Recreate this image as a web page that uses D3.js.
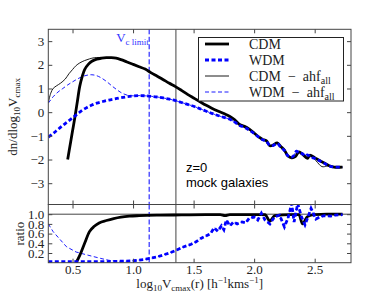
<!DOCTYPE html>
<html>
<head>
<meta charset="utf-8">
<script src="https://cdnjs.cloudflare.com/ajax/libs/d3/7.8.5/d3.min.js"></script>
<style>
  body { margin: 0; background: #fff; }
  svg { display: block; }
</style>
</head>
<body>
<div id="chart"></div>
<script>
// ---- data (log10 Vcmax on x) ----
const cdmX = [0.46,0.48,0.50,0.52,0.54,0.56,0.58,0.60,0.63,0.66,0.70,0.74,0.78,0.82,0.86,0.90,0.95,1.00,1.05,1.10,1.15,1.20,1.25,1.30,1.35,1.40,1.45,1.50,1.55,1.60,1.65,1.70,1.75,1.80,1.84,1.88,1.92,1.96,2.00,2.04,2.07,2.10,2.13,2.16,2.19,2.22,2.25,2.28,2.31,2.34,2.37,2.40,2.44,2.46,2.50,2.54,2.58,2.62,2.66,2.73];
const cdmY = [-2.0,-1.4,-0.8,-0.2,0.45,1.1,1.5,1.8,2.02,2.15,2.24,2.28,2.3,2.3,2.28,2.22,2.12,2.02,1.92,1.82,1.66,1.52,1.37,1.22,1.08,0.92,0.75,0.6,0.45,0.3,0.17,0.05,-0.06,-0.18,-0.32,-0.52,-0.6,-0.72,-0.88,-1.05,-1.15,-1.2,-1.42,-1.38,-1.3,-1.45,-1.6,-1.85,-1.93,-1.88,-1.68,-1.78,-1.95,-1.82,-1.92,-2.04,-2.15,-2.26,-2.32,-2.32];

const wdmX = [0.30,0.34,0.38,0.42,0.46,0.50,0.54,0.58,0.62,0.66,0.70,0.75,0.80,0.85,0.90,0.95,1.00,1.05,1.10,1.15,1.20,1.25,1.30,1.35,1.40,1.45,1.50,1.55,1.60,1.65,1.70,1.75,1.80,1.84,1.88,1.92,1.96,2.00,2.04,2.07,2.10,2.13,2.16,2.19,2.22,2.25,2.28,2.31,2.33,2.35,2.37,2.40,2.42,2.44,2.47,2.50,2.54,2.58,2.62,2.66,2.73];
const wdmY = [-1.05,-0.9,-0.73,-0.56,-0.4,-0.24,-0.08,0.08,0.2,0.3,0.38,0.45,0.51,0.56,0.61,0.65,0.68,0.7,0.69,0.67,0.64,0.6,0.55,0.49,0.41,0.33,0.25,0.15,0.05,-0.05,-0.14,-0.22,-0.3,-0.42,-0.56,-0.64,-0.76,-0.9,-1.06,-1.17,-1.23,-1.4,-1.4,-1.32,-1.48,-1.62,-1.85,-1.9,-1.82,-1.65,-1.72,-1.76,-1.85,-1.8,-1.9,-1.95,-2.05,-2.16,-2.27,-2.32,-2.32];

const cdmAhfX = [0.30,0.32,0.34,0.37,0.40,0.44,0.47,0.50,0.53,0.56,0.60,0.64,0.68,0.72,0.76,0.82,0.86,0.90,0.95,1.00,1.05,1.10,1.15,1.20,1.25,1.30,1.35,1.40,1.45,1.50,1.55,1.60,1.65,1.70,1.75,1.80,1.84,1.88,1.92,1.96,2.00,2.04,2.07,2.10,2.13,2.16,2.19,2.22,2.25,2.28,2.31,2.34,2.37,2.40,2.44,2.46,2.51,2.56,2.60,2.62,2.66,2.73];
const cdmAhfY = [0.4,0.8,1.0,1.12,1.22,1.4,1.62,1.8,1.97,2.08,2.18,2.25,2.3,2.31,2.3,2.3,2.28,2.22,2.12,2.02,1.92,1.82,1.66,1.52,1.37,1.22,1.08,0.92,0.75,0.6,0.45,0.3,0.17,0.05,-0.06,-0.18,-0.32,-0.52,-0.6,-0.72,-0.88,-1.05,-1.15,-1.2,-1.42,-1.38,-1.3,-1.45,-1.6,-1.85,-1.93,-1.88,-1.68,-1.78,-1.95,-1.82,-2.05,-2.3,-2.28,-2.26,-2.32,-2.32];

const wdmAhfX = [0.30,0.34,0.38,0.42,0.46,0.50,0.54,0.58,0.62,0.66,0.70,0.74,0.78,0.82,0.86,0.90,0.95,1.00,1.05,1.10,1.15,1.20,1.25,1.30,1.35,1.40,1.45,1.50,1.55,1.60,1.65,1.70,1.75,1.80,1.84,1.88,1.92,1.96,2.00,2.04,2.07,2.10,2.13,2.16,2.19,2.22,2.25,2.28,2.31,2.33,2.35,2.37,2.40,2.42,2.44,2.47,2.50,2.54,2.58,2.62,2.66,2.73];
const wdmAhfY = [0.38,0.65,0.85,1.0,1.15,1.28,1.4,1.5,1.56,1.58,1.54,1.44,1.3,1.13,0.97,0.83,0.72,0.69,0.7,0.69,0.67,0.64,0.6,0.55,0.49,0.41,0.33,0.25,0.15,0.05,-0.05,-0.14,-0.22,-0.3,-0.42,-0.56,-0.64,-0.76,-0.9,-1.06,-1.17,-1.23,-1.4,-1.4,-1.32,-1.48,-1.62,-1.85,-1.9,-1.82,-1.65,-1.72,-1.76,-1.85,-1.8,-1.9,-1.95,-2.05,-2.16,-2.27,-2.32,-2.32];

// ratio panel
const cdmRatioX = [0.53,0.56,0.60,0.64,0.68,0.72,0.78,0.84,0.90,0.97,1.05,1.20,1.40,1.60,1.72,1.76,1.80,2.00,2.09,2.13,2.17,2.30,2.37,2.40,2.44,2.50,2.60,2.73];
const cdmRatioY = [0.0,0.15,0.40,0.64,0.75,0.82,0.87,0.91,0.94,0.96,0.97,0.98,0.985,0.99,0.99,0.97,0.99,0.99,0.99,0.86,0.97,0.99,0.99,0.80,0.95,0.99,1.0,1.0];

const wdmRatioX = [0.30,0.50,0.70,0.90,1.00,1.10,1.20,1.30,1.36,1.42,1.48,1.52,1.56,1.60,1.64,1.67,1.70,1.73,1.75,1.77,1.80,1.83,1.86,1.90,1.93,1.96,2.00,2.03,2.06,2.09,2.13,2.17,2.21,2.25,2.28,2.31,2.33,2.36,2.39,2.42,2.45,2.47,2.51,2.55,2.58,2.63,2.67,2.73];
const wdmRatioY = [0.02,0.02,0.02,0.03,0.04,0.07,0.12,0.2,0.26,0.33,0.38,0.43,0.5,0.55,0.6,0.72,0.65,0.76,0.68,0.88,0.76,0.84,0.8,0.84,0.82,0.92,0.94,0.88,1.02,0.88,0.8,0.95,0.98,0.74,0.92,1.22,0.84,1.22,0.95,0.78,0.98,1.12,0.9,0.95,0.97,0.96,0.98,0.99];

const wdmAhfRatioX = [0.30,0.34,0.40,0.45,0.53,0.62,0.73,0.80,0.86,0.95,1.00,1.10,1.20,1.30,1.36,1.42,1.48,1.52,1.56,1.60,1.64,1.67,1.70,1.73,1.75,1.77,1.80,1.83,1.86,1.90,1.93,1.96,2.00,2.03,2.06,2.09,2.13,2.17,2.21,2.25,2.28,2.31,2.33,2.36,2.39,2.42,2.45,2.47,2.51,2.55,2.58,2.63,2.67,2.73];
const wdmAhfRatioY = [0.80,0.64,0.47,0.33,0.22,0.16,0.09,0.05,0.03,0.03,0.04,0.07,0.12,0.2,0.26,0.33,0.38,0.43,0.5,0.55,0.6,0.72,0.65,0.76,0.68,0.88,0.76,0.84,0.8,0.84,0.82,0.92,0.94,0.88,1.02,0.88,0.8,0.95,0.98,0.74,0.92,1.22,0.84,1.22,0.95,0.78,0.98,1.12,0.9,0.95,0.97,0.96,0.98,0.99];

const vcLimit = 1.133;     // dashed blue line
const vSolid = 1.354;      // solid grey line
const xTicks = [0.5, 1.0, 1.5, 2.0, 2.5];
const yTicksTop = [-3, -2, -1, 0, 1, 2, 3];
const yTicksRatio = [0.2, 0.4, 0.6, 0.8, 1.0];

// ---- layout ----
const W = 390, H = 293;
const L = 48.3, R = 351, T = 29.3, M = 204.5, B = 262.7;
const serif = "'Liberation Serif', 'DejaVu Serif', serif";
const sans = "'Liberation Sans', Arial, sans-serif";
const axisCol = "#444";
const blue = "#0000ff";

const svg = d3.select("#chart").append("svg")
    .attr("width", W).attr("height", H)
    .attr("viewBox", `0 0 ${W} ${H}`);

const x = d3.scaleLinear().domain([0.3, 2.8]).range([L, R]);
const yTop = d3.scaleLinear().domain([-3.9, 3.5]).range([M, T]);
const yBot = d3.scaleLinear().domain([0, 1.2]).range([B, M]);

const defs = svg.append("defs");
defs.append("clipPath").attr("id", "clipTop")
    .append("rect").attr("x", L).attr("y", T).attr("width", R - L).attr("height", M - T);
defs.append("clipPath").attr("id", "clipBot")
    .append("rect").attr("x", L).attr("y", M).attr("width", R - L).attr("height", B - M);

const zip = (xs, ys) => xs.map((v, i) => [v, ys[i]]);

// =====================
// top panel
// =====================
const topG = svg.append("g").attr("clip-path", "url(#clipTop)");
const lineTop = d3.line().x(d => x(d[0])).y(d => yTop(d[1])).curve(d3.curveCatmullRom.alpha(0.5));

topG.append("line")
    .attr("x1", x(vcLimit)).attr("x2", x(vcLimit)).attr("y1", T).attr("y2", M)
    .attr("stroke", blue).attr("stroke-width", 1).attr("stroke-dasharray", "5,2.5");
topG.append("line")
    .attr("x1", x(vSolid)).attr("x2", x(vSolid)).attr("y1", T).attr("y2", M)
    .attr("stroke", axisCol).attr("stroke-width", 1);

topG.append("path").datum(zip(cdmAhfX, cdmAhfY)).attr("d", lineTop)
    .attr("fill", "none").attr("stroke", "#000").attr("stroke-width", 0.9);
topG.append("path").datum(zip(wdmAhfX, wdmAhfY)).attr("d", lineTop)
    .attr("fill", "none").attr("stroke", blue).attr("stroke-width", 0.9).attr("stroke-dasharray", "4,2.5");
topG.append("path").datum(zip(cdmX, cdmY)).attr("d", lineTop)
    .attr("fill", "none").attr("stroke", "#000").attr("stroke-width", 2.8);
topG.append("path").datum(zip(wdmX, wdmY)).attr("d", lineTop)
    .attr("fill", "none").attr("stroke", blue).attr("stroke-width", 2.8).attr("stroke-dasharray", "4,2.5");

// V_c limit label
const vcText = svg.append("text")
    .attr("x", x(vcLimit) - 33).attr("y", 42)
    .attr("fill", "#3333ff").attr("font-family", serif).attr("font-size", 13);
vcText.append("tspan").text("V");
vcText.append("tspan").attr("dy", 3).attr("font-size", 9).text("c limit");

// z=0 / mock galaxies
svg.append("text").attr("x", 186).attr("y", 172)
    .attr("font-family", sans).attr("font-size", 13).text("z=0");
svg.append("text").attr("x", 186).attr("y", 187)
    .attr("font-family", sans).attr("font-size", 13).text("mock galaxies");

// =====================
// ratio panel
// =====================
const botG = svg.append("g").attr("clip-path", "url(#clipBot)");
const lineBot = d3.line().x(d => x(d[0])).y(d => yBot(d[1]));

botG.append("line")
    .attr("x1", L).attr("x2", R).attr("y1", yBot(1)).attr("y2", yBot(1))
    .attr("stroke", axisCol).attr("stroke-width", 1);
botG.append("line")
    .attr("x1", x(vcLimit)).attr("x2", x(vcLimit)).attr("y1", M).attr("y2", B)
    .attr("stroke", blue).attr("stroke-width", 1).attr("stroke-dasharray", "5,2.5");
botG.append("line")
    .attr("x1", x(vSolid)).attr("x2", x(vSolid)).attr("y1", M).attr("y2", B)
    .attr("stroke", axisCol).attr("stroke-width", 1);

botG.append("path").datum(zip(wdmAhfRatioX, wdmAhfRatioY))
    .attr("d", lineBot)
    .attr("fill", "none").attr("stroke", blue).attr("stroke-width", 0.9).attr("stroke-dasharray", "4,2.5");
botG.append("path").datum(zip(cdmRatioX, cdmRatioY))
    .attr("d", d3.line().x(d => x(d[0])).y(d => yBot(d[1])).curve(d3.curveMonotoneX))
    .attr("fill", "none").attr("stroke", "#000").attr("stroke-width", 2.8);
botG.append("path").datum(zip(wdmRatioX, wdmRatioY))
    .attr("d", lineBot)
    .attr("fill", "none").attr("stroke", blue).attr("stroke-width", 2.8).attr("stroke-dasharray", "4,2.5");

// =====================
// axes
// =====================
function styleAxis(g) {
    g.select(".domain").remove();
    g.selectAll(".tick line").attr("stroke", axisCol);
    g.selectAll("text").attr("font-family", serif).attr("font-size", 13).attr("fill", "#222");
}

svg.append("g").attr("transform", `translate(0,${T})`)
    .call(d3.axisTop(x).tickValues(xTicks).tickSize(-4).tickFormat("")).call(styleAxis);
svg.append("g").attr("transform", `translate(0,${M})`)
    .call(d3.axisBottom(x).tickValues(xTicks).tickSize(-4).tickFormat("")).call(styleAxis);
svg.append("g").attr("transform", `translate(0,${M})`)
    .call(d3.axisTop(x).tickValues(xTicks).tickSize(-4).tickFormat("")).call(styleAxis);
svg.append("g").attr("transform", `translate(0,${B})`)
    .call(d3.axisBottom(x).tickValues(xTicks).tickSize(-4).tickPadding(2).tickFormat(d3.format(".1f"))).call(styleAxis);

svg.append("g").attr("transform", `translate(${L},0)`)
    .call(d3.axisLeft(yTop).tickValues(yTicksTop).tickSize(-4).tickPadding(4).tickFormat(d3.format("d"))).call(styleAxis);
svg.append("g").attr("transform", `translate(${R},0)`)
    .call(d3.axisRight(yTop).tickValues(yTicksTop).tickSize(-4).tickFormat("")).call(styleAxis);
svg.append("g").attr("transform", `translate(${L},0)`)
    .call(d3.axisLeft(yBot).tickValues(yTicksRatio).tickSize(-4).tickPadding(4).tickFormat(d3.format(".1f"))).call(styleAxis);
svg.append("g").attr("transform", `translate(${R},0)`)
    .call(d3.axisRight(yBot).tickValues(yTicksRatio).tickSize(-4).tickFormat("")).call(styleAxis);

// frames
svg.append("rect").attr("x", L).attr("y", T).attr("width", R - L).attr("height", M - T)
    .attr("fill", "none").attr("stroke", axisCol).attr("stroke-width", 1);
svg.append("rect").attr("x", L).attr("y", M).attr("width", R - L).attr("height", B - M)
    .attr("fill", "none").attr("stroke", axisCol).attr("stroke-width", 1);

// axis labels
const yl = svg.append("text")
    .attr("transform", `translate(17,${(T + M) / 2}) rotate(-90)`)
    .attr("text-anchor", "middle").attr("font-family", serif).attr("font-size", 13).attr("fill", "#222");
yl.append("tspan").text("dn/dlog");
yl.append("tspan").attr("dy", 3).attr("font-size", 9).text("10");
yl.append("tspan").attr("dy", -3).text("V");
yl.append("tspan").attr("dy", 3).attr("font-size", 9).text("cmax");

svg.append("text")
    .attr("transform", `translate(24,${(M + B) / 2}) rotate(-90)`)
    .attr("text-anchor", "middle").attr("font-family", serif).attr("font-size", 13).attr("fill", "#222")
    .text("ratio");

const xl = svg.append("text")
    .attr("x", (L + R) / 2).attr("y", 288)
    .attr("text-anchor", "middle").attr("font-family", serif).attr("font-size", 13).attr("fill", "#222");
xl.append("tspan").text("log");
xl.append("tspan").attr("dy", 3).attr("font-size", 9).text("10");
xl.append("tspan").attr("dy", -3).text("V");
xl.append("tspan").attr("dy", 3).attr("font-size", 9).text("cmax");
xl.append("tspan").attr("dy", -3).text("(r) [h");
xl.append("tspan").attr("dy", -5).attr("font-size", 9).text("−1");
xl.append("tspan").attr("dy", 5).text("kms");
xl.append("tspan").attr("dy", -5).attr("font-size", 9).text("−1");
xl.append("tspan").attr("dy", 5).text("]");

// =====================
// legend
// =====================
const legendNames = ["CDM", "WDM", "CDM", "WDM"];
const legendSubs = ["", "", "all", "all"];
const legendStyles = [
    { c: "#000", w: 2.8, d: null },
    { c: blue, w: 2.8, d: "4,2.5" },
    { c: "#000", w: 0.9, d: null },
    { c: blue, w: 0.9, d: "4,2.5" }
];

const lg = svg.append("g");
lg.append("rect").attr("x", 198.5).attr("y", 37.5).attr("width", 145).attr("height", 63.5)
    .attr("fill", "#fff").attr("stroke", "#222").attr("stroke-width", 1);

legendNames.forEach((name, i) => {
    const yy = 44 + i * 16;
    const s = legendStyles[i];
    lg.append("line").attr("x1", 205).attr("x2", 229).attr("y1", yy).attr("y2", yy)
        .attr("stroke", s.c).attr("stroke-width", s.w)
        .attr("stroke-dasharray", s.d);
    const t = lg.append("text").attr("x", 249).attr("y", yy + 4.5)
        .attr("font-family", serif).attr("font-size", 14).attr("fill", "#222");
    t.append("tspan").text(name);
    if (legendSubs[i]) {
        t.append("tspan").text("\u2002−\u2002ahf");
        t.append("tspan").attr("dy", 3).attr("font-size", 10).text(legendSubs[i]);
    }
});
</script>
</body>
</html>
